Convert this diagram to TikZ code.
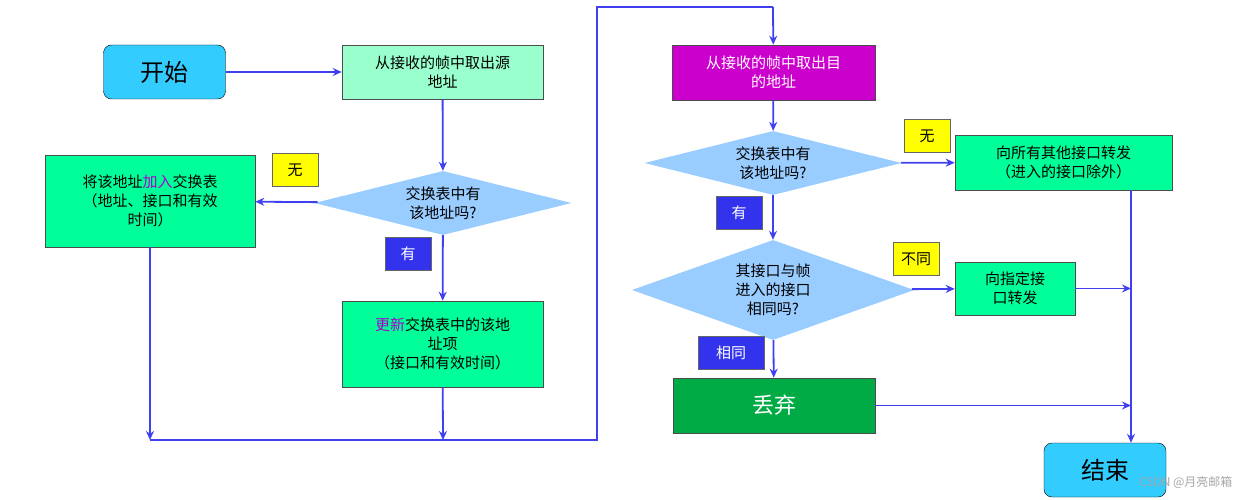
\documentclass[tikz,border=0pt]{standalone}
\usepackage{fontspec}
\setmainfont{Noto Sans CJK SC}
\usetikzlibrary{shapes.geometric,arrows.meta}
\definecolor{ln}{HTML}{4040F0}
\definecolor{cy}{HTML}{33CCFF}
\definecolor{lg}{HTML}{99FFCC}
\definecolor{bg}{HTML}{00FF99}
\definecolor{lb}{HTML}{99CCFF}
\definecolor{yl}{HTML}{FFFF00}
\definecolor{bl}{HTML}{3333EE}
\definecolor{mg}{HTML}{CC00CC}
\definecolor{dg}{HTML}{00AA44}
\definecolor{pu}{HTML}{AA00CC}
\begin{document}
\begin{tikzpicture}[x=1pt,y=-1pt,
 box/.style={draw=black!70,line width=0.6pt,minimum width=#1,align=center,font=\fontsize{15}{19}\selectfont,inner sep=2pt},
 rnd/.style={draw=black,rounded corners=8pt,fill=cy,minimum width=122pt,minimum height=54pt,font=\fontsize{24}{28}\selectfont},
 dia/.style={diamond,fill=lb,aspect=4,inner sep=0pt,align=center,font=\fontsize{15}{19}\selectfont},
 tagy/.style={draw=black!60,fill=yl,minimum width=46pt,minimum height=33pt,inner sep=1pt,font=\fontsize{15}{18}\selectfont},
 tagb/.style={draw=black!60,fill=bl,text=white,minimum width=46pt,minimum height=33pt,inner sep=1pt,font=\fontsize{15}{18}\selectfont},
 ar/.style={ln,line width=1.8pt,-{Stealth[length=9pt,width=8pt]}},
 li/.style={ln,line width=1.8pt}]
\useasboundingbox (0,0) rectangle (1248,500);
\node[rnd] (start) at (164.5,72) {开始};
\node[box=201pt,fill=lg,minimum height=54pt] (src) at (442.5,72) {从接收的帧中取出源\\地址};
\node[dia,minimum width=257pt,minimum height=64pt] (d1) at (443,203) {交换表中有\\该地址吗?};
\node[tagy] (n1) at (295,170) {无};
\node[box=210pt,fill=bg,minimum height=92pt] (add) at (150,201) {将该地址\textcolor{pu}{加入}交换表\\（地址、接口和有效\\时间）};
\node[tagb] (y1) at (408,254) {有};
\node[box=201pt,fill=bg,minimum height=86pt] (upd) at (442.5,344) {\textcolor{pu}{更新}交换表中的该地\\址项\\（接口和有效时间）};
\coordinate (c1) at (150,440);
\coordinate (c2) at (443,440);
\coordinate (c3) at (597,440);
\coordinate (c4) at (597,7);
\coordinate (c5) at (773,7);
\node[box=203pt,fill=mg,text=white,minimum height=55pt] (dst) at (773.5,72.5) {从接收的帧中取出目\\的地址};
\node[dia,minimum width=257pt,minimum height=64pt] (d2) at (773,163) {交换表中有\\该地址吗?};
\node[tagy] (n2) at (927,136) {无};
\node[box=217pt,fill=bg,minimum height=55pt] (all) at (1063.5,162.5) {向所有其他接口转发\\（进入的接口除外）};
\node[tagb] (y2) at (739,213) {有};
\node[dia,minimum width=257pt,minimum height=100pt] (d3) at (773,290) {其接口与帧\\进入的接口\\相同吗?};
\node[tagy] (n3) at (916,259) {不同};
\node[box=120pt,fill=bg,minimum height=53pt] (one) at (1015,288.5) {向指定接\\口转发};
\node[tagb,minimum width=66pt] (s3) at (731,353) {相同};
\node[box=202pt,fill=dg,text=white,minimum height=55pt,font=\fontsize{22}{26}\selectfont] (drop) at (774,405.5) {丢弃};
\node[rnd] (end) at (1105,470) {结束};
\node[text=black!35,font=\fontsize{12}{14}\selectfont,anchor=east] (wm) at (1236,482) {CSDN @月亮邮箱};
\draw[ar] (start) -- (src);
\draw[ar] (src) -- (d1);
\draw[ar] (d1) -- (add);
\draw[ar] (d1) -- (upd);
\draw[ar] (add.south) -- (c1);
\draw[ar] (upd) -- (c2);
\draw[li] (c1) -- (c3) -- (c4) -- (c5);
\draw[ar] (c5) -- (dst);
\draw[ar] (dst) -- (d2);
\draw[ar] (d2) -- (all);
\draw[ar] (d2) -- (d3);
\draw[ar] (d3) -- (one);
\draw[ar] (d3) -- (drop);
\draw[ar] (all.south -| 1131,0) -- (end.north -| 1131,0);
\draw[ar] (one.east) -- (1131,288.5);
\draw[ar] (drop.east) -- (1131,405.5);
\end{tikzpicture}
\end{document}
